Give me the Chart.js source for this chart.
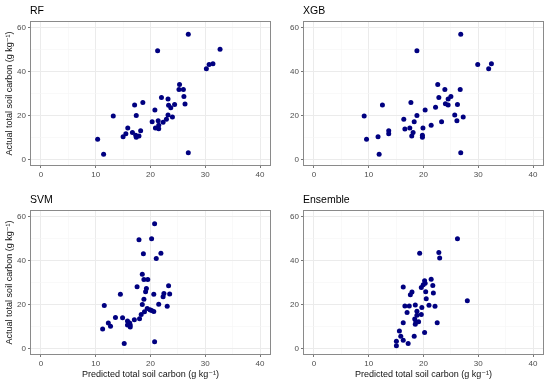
<!DOCTYPE html>
<html lang="en">
<head>
<meta charset="UTF-8">
<title>Predicted vs actual total soil carbon</title>
<script src="https://cdn.jsdelivr.net/npm/chart.js"></script>
<style>
  body { margin: 0; background: #fff; }
  #wrap { position: relative; width: 550px; height: 384px; }
  canvas { position: absolute; }
</style>
</head>
<body>
<div id="wrap">
  <canvas id="rf" width="275" height="190" style="left:0;top:0"></canvas>
  <canvas id="xgb" width="275" height="190" style="left:275px;top:0"></canvas>
  <canvas id="svm" width="275" height="194" style="left:0;top:190px"></canvas>
  <canvas id="ens" width="275" height="194" style="left:275px;top:190px"></canvas>
</div>
<script>
// tick labels
const xTicks = [0, 10, 20, 30, 40];
const yTicks = [0, 20, 40, 60];
const xTitle = 'Predicted total soil carbon (g kg\u207B\u00B9)';
const yTitle = 'Actual total soil carbon (g kg\u207B\u00B9)';

// RF
const rfX = [10.35, 11.44, 13.2, 15.0, 15.5, 15.85, 16.7, 17.1, 17.4, 17.3, 17.4, 17.9, 18.2, 18.6, 20.3, 20.8, 20.9, 21.3, 21.4, 21.5, 21.5,
  22.0, 22.3, 22.9, 23.2, 23.2, 23.3, 23.7, 24.0, 24.4, 25.3, 25.2, 26.0, 26.1, 26.3, 26.9, 26.9, 30.2, 30.7, 31.4, 32.7];
const rfY = [9.15, 2.4, 19.8, 10.35, 11.7, 14.25, 12.3, 24.75, 19.95, 10.95, 10.05, 10.65, 13.05, 25.95, 17.1, 22.5, 14.25, 49.5, 17.55, 13.95, 15.6,
  28.2, 16.95, 18.3, 27.45, 20.25, 24.6, 23.55, 19.35, 25.05, 34.05, 31.8, 31.8, 28.65, 25.2, 57.0, 3.0, 41.25, 43.2, 43.5, 50.1];

// XGB
const xgbX = [9.17, 9.6, 11.7, 11.9, 12.5, 13.65, 13.65, 16.4, 16.6, 17.5, 17.7, 17.85, 18.1, 18.3, 18.8, 18.8, 19.8, 19.8, 19.9, 20.3,
  21.4, 22.2, 22.6, 22.8, 23.3, 23.9, 24.0, 24.5, 24.5, 25.0, 25.7, 26.1, 26.2, 26.7, 26.8, 26.8, 27.25, 29.9, 31.9, 32.4];
const xgbY = [19.8, 9.15, 10.35, 2.4, 24.75, 13.05, 11.7, 18.3, 13.8, 14.25, 25.95, 10.65, 12.3, 17.1, 49.5, 19.95, 10.95, 10.05, 14.25, 22.5,
  15.6, 23.7, 34.05, 28.2, 17.1, 31.8, 25.35, 27.45, 24.75, 28.65, 20.25, 17.55, 25.05, 31.8, 57.0, 3.0, 19.35, 43.2, 41.25, 43.5];

// SVM
const svmX = [11.26, 11.56, 12.3, 12.7, 13.6, 14.5, 14.9, 15.2, 15.8, 15.8, 16.2, 16.3, 16.3, 17.05, 17.55, 17.9, 18.0, 18.3, 18.5, 18.5, 18.7, 18.8,
  18.8, 18.9, 19.1, 19.25, 19.5, 19.4, 19.9, 20.2, 20.2, 20.6, 20.6, 20.75, 20.75, 21.05, 21.5, 21.9, 22.3, 22.45, 23.05, 23.3, 23.5];
const svmY = [8.85, 19.5, 11.55, 10.05, 14.1, 24.6, 13.95, 2.25, 12.45, 10.65, 11.55, 9.75, 10.65, 13.05, 28.05, 49.5, 13.5, 15.45, 33.75, 19.95, 43.05, 31.35,
  22.35, 16.65, 25.8, 27.3, 31.35, 18.15, 17.55, 49.95, 17.25, 16.8, 24.6, 56.7, 3.0, 40.95, 20.1, 43.35, 23.55, 25.05, 19.2, 28.5, 24.75];

// Ensemble
const ensX = [15.05, 15.05, 15.6, 15.85, 16.3, 16.3, 16.3, 16.6, 17.0, 17.2, 17.4, 17.6, 17.9, 18.3, 18.4, 18.5, 18.5, 18.6, 18.8, 18.8, 19.1,
  19.3, 19.6, 19.7, 19.6, 19.95, 20.2, 20.2, 20.3, 20.4, 20.5, 21.0, 21.4, 21.7, 21.8, 22.1, 22.5, 22.8, 22.95, 26.2, 28.0];
const ensY = [1.2, 3.3, 7.95, 5.55, 3.75, 11.7, 27.9, 19.35, 16.35, 2.25, 19.35, 24.45, 25.65, 5.55, 13.35, 10.95, 19.8, 12.15, 16.95, 15.15, 12.15,
  43.35, 27.75, 18.6, 15.45, 28.95, 7.2, 30.75, 29.7, 25.8, 22.65, 19.65, 31.5, 28.65, 25.2, 19.2, 11.7, 43.65, 41.1, 49.95, 21.75];

const family = '"Liberation Sans", Arial, "DejaVu Sans", sans-serif';

// minor breaks sit halfway between the major ones
const minorOf = t => t.slice(1).map((v, i) => (v + t[i]) / 2);
const allX = xTicks.concat(minorOf(xTicks)).sort((a, b) => a - b);
const allY = yTicks.concat(minorOf(yTicks)).sort((a, b) => a - b);

// ggplot style panel border
const panelBorder = {
  id: 'panelBorder',
  afterDraw(chart) {
    const { ctx, chartArea: a } = chart;
    ctx.save();
    ctx.strokeStyle = '#8a8a8a';
    ctx.lineWidth = 1;
    ctx.strokeRect(Math.round(a.left) + 0.5, Math.round(a.top) + 0.5,
      Math.round(a.right - a.left) - 1, Math.round(a.bottom - a.top) - 1);
    ctx.restore();
  }
};

function axis(all, major, opt) {
  const span = major[major.length - 1] - major[0];
  return {
    type: 'linear',
    min: major[0] - span * 0.05,
    max: major[major.length - 1] + span * 0.05,
    afterBuildTicks: s => { s.ticks = all.map(v => ({ value: v })); },
    afterFit: s => { if (opt.width) s.width = opt.width; if (opt.height) s.height = opt.height; },
    border: { display: false },
    grid: {
      color: c => major.includes(c.tick.value) ? '#ebebeb' : '#f5f5f5',
      lineWidth: c => major.includes(c.tick.value) ? 1 : 0.6,
      tickColor: c => major.includes(c.tick.value) ? '#777' : 'rgba(0,0,0,0)',
      tickLength: 2
    },
    ticks: {
      autoSkip: false,
      maxRotation: 0,
      padding: 2,
      color: '#4d4d4d',
      font: { size: 8, family },
      callback: v => major.includes(v) ? String(v) : ''
    },
    title: {
      display: !!opt.title,
      text: opt.title || '',
      color: '#111',
      font: { size: 9, family },
      padding: opt.titlePad || 0
    }
  };
}

function makePanel(id, name, xs, ys, o) {
  new Chart(document.getElementById(id), {
    type: 'scatter',
    data: {
      datasets: [{
        data: xs.map((x, i) => ({ x: x, y: ys[i] })),
        backgroundColor: '#000080',
        borderWidth: 0,
        pointRadius: 2.5
      }]
    },
    options: {
      responsive: false,
      animation: false,
      layout: { padding: { left: 0, right: o.right, top: 0, bottom: 0 } },
      plugins: {
        legend: { display: false },
        tooltip: { enabled: false },
        title: {
          display: true,
          text: name,
          align: 'start',
          fullSize: false,
          color: '#000',
          font: { size: 10.5, family, weight: 'normal' },
          padding: { top: o.titleTop, bottom: o.titleBottom }
        }
      },
      scales: {
        x: axis(allX, xTicks, { height: o.xh, title: o.xt ? xTitle : null, titlePad: { top: 0, bottom: 3.6 } }),
        y: axis(allY, yTicks, { width: o.yw, title: o.yt ? yTitle : null, titlePad: { top: 4.6, bottom: 0 } })
      }
    },
    plugins: [panelBorder]
  });
}

makePanel('rf', 'RF', rfX, rfY, { right: 3, titleTop: 4.4, titleBottom: 4, xh: 24, yw: 30, yt: true });
makePanel('xgb', 'XGB', xgbX, xgbY, { right: 6, titleTop: 4.4, titleBottom: 4, xh: 24, yw: 28 });
makePanel('svm', 'SVM', svmX, svmY, { right: 3, titleTop: 3.7, titleBottom: 3.7, xh: 29, yw: 30, yt: true, xt: true });
makePanel('ens', 'Ensemble', ensX, ensY, { right: 6, titleTop: 3.7, titleBottom: 3.7, xh: 29, yw: 28, xt: true });
</script>
</body>
</html>
